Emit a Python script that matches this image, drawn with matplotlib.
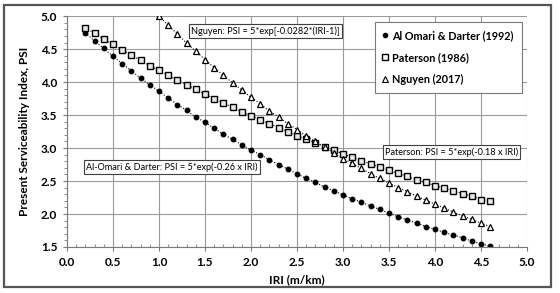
import matplotlib
matplotlib.use("Agg")
import matplotlib.pyplot as plt
from matplotlib.lines import Line2D
from matplotlib.patches import Rectangle
from matplotlib.ticker import MultipleLocator

plt.rcParams['font.family'] = ['Lato', 'DejaVu Sans']

# IRI (m/km) and PSI values
iri = [0.2, 0.3, 0.4, 0.5, 0.6, 0.7, 0.8, 0.9, 1.0, 1.1, 1.2, 1.3, 1.4, 1.5, 1.6,
       1.7, 1.8, 1.9, 2.0, 2.1, 2.2, 2.3, 2.4, 2.5, 2.6, 2.7, 2.8, 2.9, 3.0, 3.1,
       3.2, 3.3, 3.4, 3.5, 3.6, 3.7, 3.8, 3.9, 4.0, 4.1, 4.2, 4.3, 4.4, 4.5, 4.6]
psi_alomari = [4.75, 4.62, 4.51, 4.39, 4.28, 4.17, 4.06, 3.96, 3.86, 3.76, 3.66, 3.57,
               3.47, 3.39, 3.30, 3.21, 3.13, 3.05, 2.97, 2.90, 2.82, 2.75, 2.68, 2.61,
               2.54, 2.48, 2.41, 2.35, 2.29, 2.23, 2.18, 2.12, 2.07, 2.01, 1.96, 1.91,
               1.86, 1.81, 1.77, 1.72, 1.68, 1.64, 1.59, 1.55, 1.51]
psi_paterson = [4.82, 4.74, 4.65, 4.57, 4.49, 4.41, 4.33, 4.25, 4.18, 4.10, 4.03, 3.96,
                3.89, 3.82, 3.75, 3.68, 3.62, 3.55, 3.49, 3.43, 3.37, 3.31, 3.25, 3.19,
                3.13, 3.08, 3.02, 2.97, 2.91, 2.86, 2.81, 2.76, 2.71, 2.66, 2.62, 2.57,
                2.52, 2.48, 2.43, 2.39, 2.35, 2.31, 2.27, 2.22, 2.19]
iri_nguyen = [1.0, 1.1, 1.2, 1.3, 1.4, 1.5, 1.6, 1.7, 1.8, 1.9, 2.0, 2.1, 2.2, 2.3,
              2.4, 2.5, 2.6, 2.7, 2.8, 2.9, 3.0, 3.1, 3.2, 3.3, 3.4, 3.5, 3.6, 3.7,
              3.8, 3.9, 4.0, 4.1, 4.2, 4.3, 4.4, 4.5, 4.6]
psi_nguyen = [5.00, 4.86, 4.73, 4.59, 4.47, 4.34, 4.22, 4.10, 3.99, 3.88, 3.77, 3.67,
              3.56, 3.47, 3.37, 3.28, 3.18, 3.10, 3.01, 2.93, 2.84, 2.77, 2.69, 2.61,
              2.54, 2.47, 2.40, 2.34, 2.27, 2.21, 2.15, 2.09, 2.03, 1.97, 1.92, 1.86, 1.81]

fig = plt.figure(figsize=(5.6, 2.93), dpi=100)
ax = fig.add_axes([0.1196, 0.157, 0.8214, 0.788])

ax.plot(iri, psi_alomari, ls=':', lw=0.8, color='black', marker='o', ms=3.2,
        mfc='black', mec='black')
ax.plot(iri, psi_paterson, ls=':', lw=0.8, color='black', marker='s', ms=4.2,
        mfc='#e8e8e8', mec='black', mew=1.0)
ax.plot(iri_nguyen, psi_nguyen, ls=':', lw=0.8, color='black', marker='^', ms=4.6,
        mfc='white', mec='black', mew=0.9)

ax.set_xlim(0, 5)
ax.set_ylim(1.5, 5.0)
ax.xaxis.set_major_locator(MultipleLocator(0.5))
ax.yaxis.set_major_locator(MultipleLocator(0.5))
ax.xaxis.set_minor_locator(MultipleLocator(0.1))
ax.yaxis.set_minor_locator(MultipleLocator(0.1))
ax.xaxis.set_major_formatter('{x:.1f}')
ax.yaxis.set_major_formatter('{x:.1f}')
ax.grid(True, which='major', color='#9a9a9a', lw=0.8)
ax.set_axisbelow(True)
for s in ['top', 'right']:
    ax.spines[s].set_visible(False)
for s in ['left', 'bottom']:
    ax.spines[s].set_color('#7a7a7a')
ax.tick_params(which='major', length=3, color='#7a7a7a', labelsize=8.5, pad=4)
ax.tick_params(axis='x', which='minor', direction='in', length=2.5, color='#7a7a7a')
ax.tick_params(axis='y', which='minor', direction='out', length=2.5, color='#7a7a7a')
for lab in ax.get_xticklabels() + ax.get_yticklabels():
    lab.set_fontweight('bold')

ax.set_xlabel('IRI (m/km)', fontsize=8.5, fontweight='bold', labelpad=5)
ax.set_ylabel('Present Serviceability Index, PSI', fontsize=8.5, fontweight='bold', labelpad=8)

box = dict(boxstyle='square,pad=0.25', fc='white', ec='#404040', lw=0.8)
ax.text(2.16, 4.77, 'Nguyen: PSI = 5*exp[-0.0282*(IRI-1)]', fontsize=6.6, ha='center',
        va='center', bbox=box)
ax.text(1.14, 2.71, 'Al-Omari & Darter: PSI = 5*exp(-0.26 x IRI)', fontsize=6.6,
        ha='center', va='center', bbox=box)
ax.text(4.18, 2.94, 'Paterson: PSI = 5*exp(-0.18 x IRI)', fontsize=6.6, ha='center',
        va='center', bbox=box)

handles = [
    Line2D([], [], ls='none', marker='o', ms=3, mfc='black', mec='black'),
    Line2D([], [], ls='none', marker='s', ms=4, mfc='white', mec='black'),
    Line2D([], [], ls='none', marker='^', ms=4, mfc='white', mec='black', mew=0.8),
]
labels = ['Al Omari & Darter (1992)', 'Paterson (1986)', 'Nguyen (2017)']
leg = ax.legend(handles, labels, loc='upper right', bbox_to_anchor=(0.989, 0.974),
                prop={'size': 7.8, 'weight': 'bold'}, frameon=True, fancybox=False,
                edgecolor='#7a7a7a', framealpha=1, labelspacing=1.0,
                handlelength=0.5, handletextpad=0.4, borderpad=0.75, borderaxespad=0)
leg.get_frame().set_linewidth(0.8)

fig.patches.append(Rectangle((0.007, 0.02), 0.977, 0.962, transform=fig.transFigure,
                             fill=False, ec='#555555', lw=1.6))

fig.savefig('out.png', dpi=100)
